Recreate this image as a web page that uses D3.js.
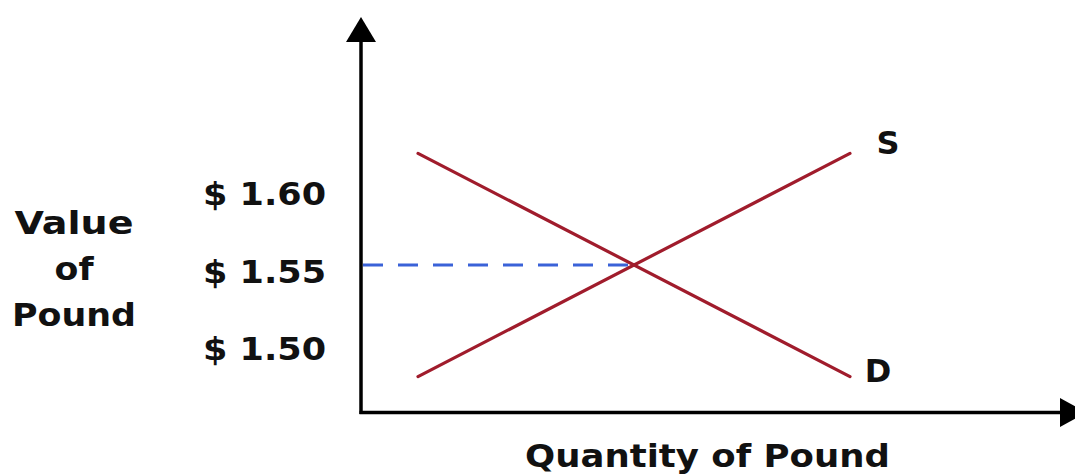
<!DOCTYPE html>
<html>
<head>
<meta charset="utf-8">
<script src="https://cdn.jsdelivr.net/npm/d3@7"></script>
<style>
  html, body { margin: 0; padding: 0; background: #fff; overflow: hidden; }
  svg { display: block; }
  text { font-family: "DejaVu Sans", Verdana, sans-serif; font-weight: bold; fill: #111; }
</style>
</head>
<body>
<svg id="chart" width="1075" height="475"></svg>
<script>
// ---- data ----
const quantities   = [1, 9];              // endpoints of curves (quantity)
const supplyPrices = [1.478, 1.622];      // S curve
const demandPrices = [1.622, 1.478];      // D curve
const equilibrium  = { q: 5, p: 1.55 };
const priceTicks   = [1.60, 1.55, 1.50];
const tickLabels   = ["$ 1.60", "$ 1.55", "$ 1.50"];
const yTitleLines  = ["Value", "of", "Pound"];
const xTitle       = "Quantity of Pound";
const curveLabels  = ["S", "D"];

// ---- layout ----
const svg = d3.select("#chart");
const x = d3.scaleLinear().domain([0, 13]).range([364, 1066]);
const y = d3.scaleLinear().domain([1.45, 1.65]).range([420, 110]);

const axisX = 361, axisY = 412.5;
const red = "#a01c2c", blue = "#3a62d8";
const fs = 32;

// axes
svg.append("line").attr("x1", axisX).attr("x2", axisX).attr("y1", axisY + 1.5).attr("y2", 40)
  .attr("stroke", "#000").attr("stroke-width", 3.5);
svg.append("line").attr("x1", axisX - 1.5).attr("x2", 1062).attr("y1", axisY).attr("y2", axisY)
  .attr("stroke", "#000").attr("stroke-width", 3.5);
// arrowheads
svg.append("path").attr("d", `M${axisX},17 L${axisX - 15},42 L${axisX + 15},42 Z`).attr("fill", "#000");
svg.append("path").attr("d", `M1086,${axisY} L1060,${axisY - 14.5} L1060,${axisY + 14.5} Z`).attr("fill", "#000");

// dashed equilibrium line
svg.append("line")
  .attr("x1", axisX + 2).attr("x2", x(equilibrium.q))
  .attr("y1", y(equilibrium.p)).attr("y2", y(equilibrium.p))
  .attr("stroke", blue).attr("stroke-width", 3.2)
  .attr("stroke-dasharray", "20,15");

// curves
const line = d3.line().x(d => x(d[0])).y(d => y(d[1]));
const supply = quantities.map((q, i) => [q, supplyPrices[i]]);
const demand = quantities.map((q, i) => [q, demandPrices[i]]);
[supply, demand].forEach(pts => {
  svg.append("path").attr("d", line(pts)).attr("fill", "none")
    .attr("stroke", red).attr("stroke-width", 3.2).attr("stroke-linecap", "round");
});

// curve labels
svg.append("text").text(curveLabels[0])
  .attr("x", x(quantities[1]) + 38).attr("y", y(supplyPrices[1]) + 1)
  .attr("text-anchor", "middle").attr("font-size", fs);
svg.append("text").text(curveLabels[1])
  .attr("x", x(quantities[1]) + 28).attr("y", y(demandPrices[1]) + 5)
  .attr("text-anchor", "middle").attr("font-size", fs);

// tick labels
svg.selectAll("text.tick").data(priceTicks).join("text").attr("class", "tick")
  .text((d, i) => tickLabels[i])
  .attr("x", 203).attr("y", d => y(d) + 17.5)
  .attr("font-size", fs)
  .attr("textLength", 123).attr("lengthAdjust", "spacingAndGlyphs");

// y title
const yTitleWidths = [119, 39, 124];
svg.selectAll("text.ytitle").data(yTitleLines).join("text").attr("class", "ytitle")
  .text(d => d)
  .attr("x", (d, i) => 74 - yTitleWidths[i] / 2)
  .attr("y", (d, i) => 234 + i * 46)
  .attr("font-size", fs)
  .attr("textLength", (d, i) => yTitleWidths[i]).attr("lengthAdjust", "spacingAndGlyphs");

// x title
svg.append("text").text(xTitle)
  .attr("x", 525).attr("y", 467)
  .attr("font-size", fs)
  .attr("textLength", 365).attr("lengthAdjust", "spacingAndGlyphs");
</script>
</body>
</html>
